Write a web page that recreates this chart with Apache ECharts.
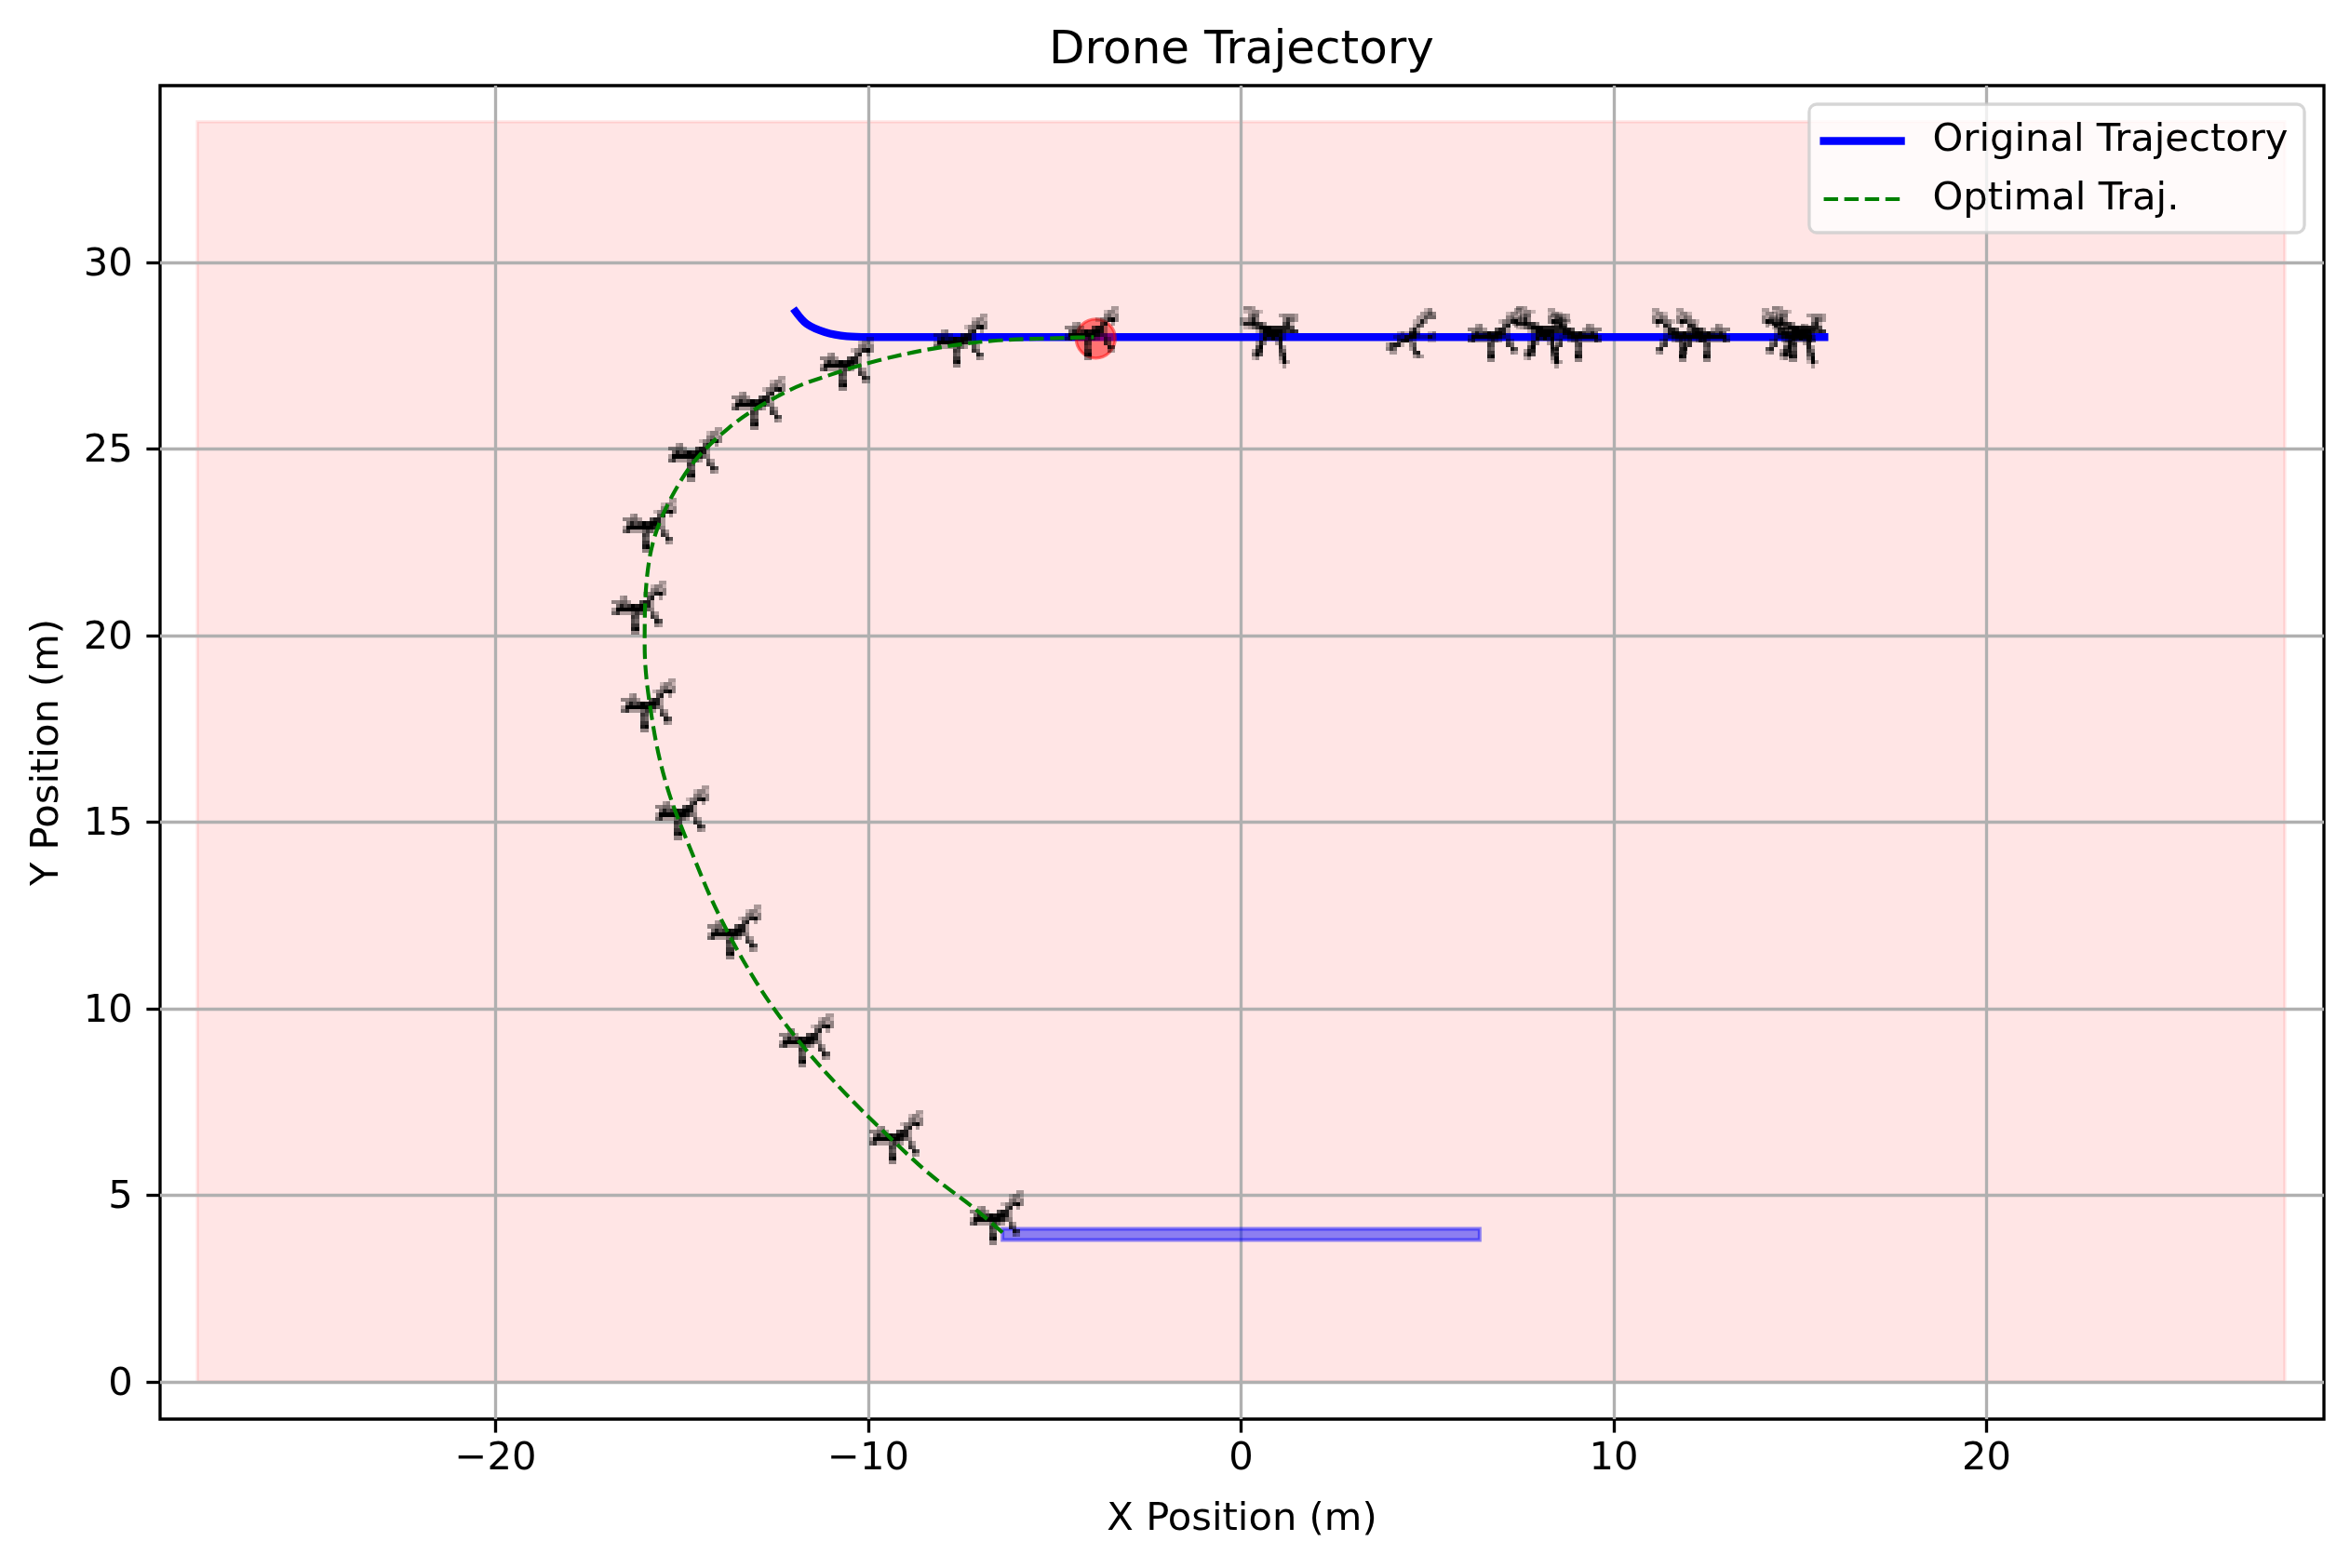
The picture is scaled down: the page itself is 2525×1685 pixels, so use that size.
<!DOCTYPE html>
<html>
<head>
<meta charset="utf-8">
<style>html,body{margin:0;padding:0;background:#fff}#c{width:2525px;height:1685px}</style>
<script src="https://cdn.jsdelivr.net/npm/echarts@6/dist/echarts.min.js"></script>
</head>
<body>
<div id="c"></div>
<script>
const FONT = '"DejaVu Sans"';
const xTicks = [-20, -10, 0, 10, 20];
const yTicks = [0, 5, 10, 15, 20, 25, 30];
const originalTraj = [[-11.95,28.68],[-11.65,28.35],[-11.16,28.13],[-10.58,28.02],[-10,28],[-5,28],[0,28],[5,28],[10,28],[15.65,28]];
const optimalTraj = [[-6.4,4],[-7.17,4.66],[-8.37,5.58],[-9.58,6.7],[-10.78,7.9],[-12,9.3],[-13,10.7],[-14,12.5],[-14.72,14.15],[-15.4,15.95],[-15.8,17.75],[-16,19.75],[-15.87,22.07],[-15,24.2],[-13.75,25.56],[-12.15,26.56],[-10.83,27.05],[-9.75,27.37],[-8.33,27.68],[-6.66,27.9],[-4.66,27.98],[-3.95,28]];
const safeZone = [[-28,0,28,33.77]];
const landingPad = [[-6.4,3.8,6.4,4.1]];
const obstacle = [[-3.9,27.96]];
const droneX = [-6.55,-9.25,-11.66,-13.6,-15,-15.9,-16.15,-15.87,-14.65,-12.95,-10.58,-7.53,-4,0.8,4.6,6.8,8.1,8.95,11.75,12.4,14.7,14.97];
const droneY = [4.35,6.5,9.1,12,15.2,18.08,20.7,22.9,24.8,26.18,27.23,27.85,28.05,28,28,28,28,28,28,28,28,28];
const droneKind = ['A','A','A','A','A','A','A','A','A','A','A','A','A','B','C','A','B','D','D','D','D','B'];
const spriteA = ["............33","..........2442","..........4534","........245894","..34.....68.3.","44553..6883...",".5867989983...","39999999854...","573335753.63..",".....76...75..",".....65....86.",".....77....43.",".....89.......",".....44......."];
const spriteB = [".443...........",".23442.........","..465.....34443","33584......4753","3889874....682.",".2357999888886.","....26999998787",".....3899983...",".....3969693...","....384..38....","....69....83...","...388....75...","...596....68...","...24.....49...","..........293..","...........3..."];
const spriteC = ["..........24.",".........3464","........33655",".......2384..",".......375...","......483....","...242895..24","..35489943384","...68953...22","37882.46.....","475...37.....",".33....78....",".......353..."];
const sprites = {
  A:{rows:spriteA,cx:6.5,cy:7},
  B:{rows:spriteB,cx:7.5,cy:7.5},
  C:{rows:spriteC,cx:6.5,cy:7},
  D:{rows:spriteA.map(r=>r.split('').reverse().join('')),cx:6.5,cy:7}
};
const CELL = 4.17;
const droneData = droneX.map((x,i)=>[x,droneY[i],droneKind[i]]);
const fmt = v => String(v).replace('-', '\u2212');

function rectItem(params, api, style){
  const a = api.coord([api.value(0), api.value(1)]);
  const b = api.coord([api.value(2), api.value(3)]);
  return {type:'rect', shape:{x:a[0], y:b[1], width:b[0]-a[0], height:a[1]-b[1]}, style};
}
function droneItem(params, api){
  const p = api.coord([api.value(0), api.value(1)]);
  const sp = sprites[droneKind[params.dataIndex]];
  const children = [];
  sp.rows.forEach((row,r)=>{
    row.split('').forEach((ch,c)=>{
      if(ch==='.') return;
      const x0=Math.round(p[0]+(c-sp.cx-0.5)*CELL), x1=Math.round(p[0]+(c-sp.cx+0.5)*CELL);
      const y0=Math.round(p[1]+(r-sp.cy-0.5)*CELL), y1=Math.round(p[1]+(r-sp.cy+0.5)*CELL);
      children.push({type:'rect',shape:{x:x0,y:y0,width:x1-x0,height:y1-y0},style:{fill:'rgba(0,0,0,'+(+ch/9).toFixed(2)+')'}});
    });
  });
  return {type:'group',children};
}

const axisCommon = {
  type:'value', z:2, nameLocation:'middle',
  nameTextStyle:{fontFamily:FONT,fontSize:41.67,color:'#000'},
  axisLine:{show:false,onZero:false},
  axisTick:{show:true,inside:false,length:14.6,lineStyle:{color:'#000',width:3.33}},
  splitLine:{show:true,lineStyle:{color:'#b0b0b0',width:3.33}},
  splitArea:{show:false}
};

const chart = echarts.init(document.getElementById('c'),null,{renderer:'canvas',width:2525,height:1685});
chart.setOption({
  animation:false,
  backgroundColor:'#fff',
  title:{text:'Drone Trajectory',left:1329,textAlign:'center',top:25,textStyle:{fontFamily:FONT,fontSize:50,fontWeight:'normal',color:'#000'}},
  grid:{show:true,left:172,right:28,top:92,bottom:160,borderColor:'#000',borderWidth:3.33,backgroundColor:'transparent',containLabel:false},
  xAxis:Object.assign({},axisCommon,{
    position:'bottom',min:-29,max:29.05,name:'X Position (m)',nameGap:87.5,
    axisTick:Object.assign({},axisCommon.axisTick,{customValues:xTicks}),
    axisLabel:{customValues:xTicks,formatter:fmt,margin:22,fontFamily:FONT,fontSize:41.67,color:'#000',hideOverlap:false}
  }),
  yAxis:Object.assign({},axisCommon,{
    position:'left',min:-1,max:34.74,name:'Y Position (m)',nameGap:100,
    axisTick:Object.assign({},axisCommon.axisTick,{customValues:yTicks}),
    axisLabel:{customValues:yTicks,formatter:fmt,margin:29.2,fontFamily:FONT,fontSize:41.67,color:'#000',hideOverlap:false,verticalAlign:'top',lineHeight:6}
  }),
  legend:{
    show:true,z:10,right:49,top:112,orient:'vertical',align:'left',
    data:['Original Trajectory','Optimal Traj.'],
    itemWidth:83,itemHeight:42,itemGap:20.5,
    padding:[18.5,17.5,15,11.5],
    backgroundColor:'rgba(255,255,255,0.8)',
    borderColor:'rgba(204,204,204,0.8)',borderWidth:3.33,borderRadius:8,
    itemStyle:{opacity:0},
    lineStyle:{width:'inherit',type:'inherit',cap:'inherit',opacity:1},
    textStyle:{fontFamily:FONT,fontSize:41.67,color:'#000',padding:[0,0,0,29]},
    selectedMode:false
  },
  series:[
    {type:'custom',name:'zone',z:1,silent:true,coordinateSystem:'cartesian2d',encode:{x:[0,2],y:[1,3]},data:safeZone,
      renderItem:(p,api)=>rectItem(p,api,{fill:'rgba(255,0,0,0.1)',stroke:'rgba(255,0,0,0.1)',lineWidth:3.33})},
    {type:'custom',name:'pad',z:3,silent:true,coordinateSystem:'cartesian2d',encode:{x:[0,2],y:[1,3]},data:landingPad,
      renderItem:(p,api)=>rectItem(p,api,{fill:'rgba(0,0,255,0.45)',stroke:'rgba(0,0,255,0.45)',lineWidth:4})},
    {type:'line',name:'Original Trajectory',z:3,data:originalTraj,smooth:0.35,symbol:'none',showSymbol:false,
      itemStyle:{color:'#0000ff'},lineStyle:{color:'#0000ff',width:8.33,cap:'square'}},
    {type:'scatter',name:'obstacle',z:4,silent:true,data:obstacle,symbol:'circle',symbolSize:42,
      itemStyle:{color:'rgba(255,0,0,0.5)',borderColor:'rgba(255,0,0,0.5)',borderWidth:3.33,opacity:1}},
    {type:'custom',name:'drones',z:5,silent:true,coordinateSystem:'cartesian2d',encode:{x:0,y:1},data:droneData,renderItem:droneItem},
    {type:'line',name:'Optimal Traj.',z:6,data:optimalTraj,smooth:0.35,symbol:'none',showSymbol:false,
      itemStyle:{color:'#008000'},lineStyle:{color:'#008000',width:4.17,type:[15.4,6.67],cap:'butt'}}
  ]
});
</script>
</body>
</html>
